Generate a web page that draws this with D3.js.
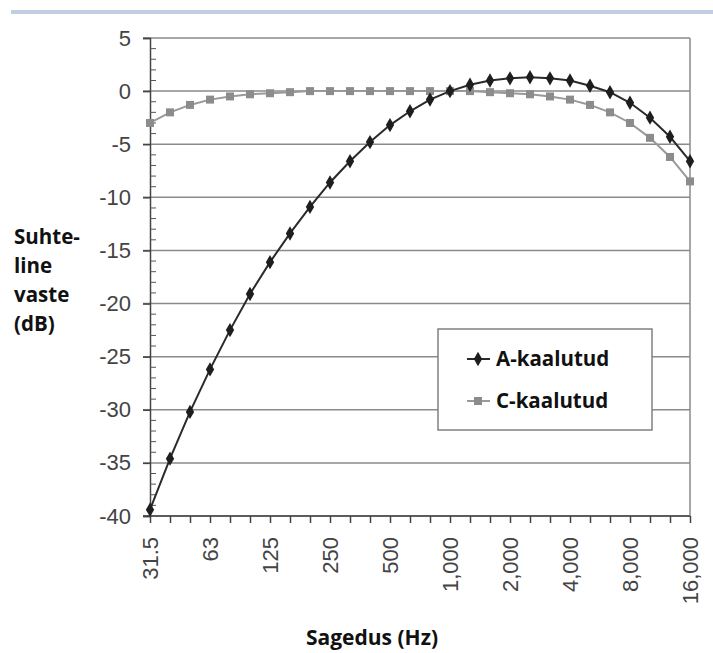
<!DOCTYPE html>
<html>
<head>
<meta charset="utf-8">
<script src="https://cdn.jsdelivr.net/npm/d3@7"></script>
<style>
  body { margin: 0; background: #fff; }
  svg { display: block; }
</style>
</head>
<body>
<script>
const laius = 713
const korgus = 653

// sagedused (Hz), 1/3 oktaavi kaupa
const sagedused = ['31.5','40','50','63','80','100','125','160','200','250','315','400','500','630','800',
  '1,000','1,250','1,600','2,000','2,500','3,150','4,000','5,000','6,300','8,000','10,000','12,500','16,000']
const sildid = ['31.5','63','125','250','500','1,000','2,000','4,000','8,000','16,000']
const yTikid = [5, 0, -5, -10, -15, -20, -25, -30, -35, -40]

const aKaal = [-39.4,-34.6,-30.2,-26.2,-22.5,-19.1,-16.1,-13.4,-10.9,-8.6,-6.6,-4.8,-3.2,-1.9,-0.8,
  0,0.6,1.0,1.2,1.3,1.2,1.0,0.5,-0.1,-1.1,-2.5,-4.3,-6.6]
const cKaal = [-3.0,-2.0,-1.3,-0.8,-0.5,-0.3,-0.2,-0.1,0,0,0,0,0,0,0,
  0,0,-0.1,-0.2,-0.3,-0.5,-0.8,-1.3,-2.0,-3.0,-4.4,-6.2,-8.5]

const ala = {vasak: 150, parem: 690, ules: 38, alla: 516}

const svg = d3.select('body').append('svg').attr('width', laius).attr('height', korgus)

// sinine joon ülaosas
svg.append('rect').attr('x', 11).attr('y', 10).attr('width', laius - 11).attr('height', 4).attr('fill', '#c3cde0')

const x = d3.scalePoint().domain(sagedused).range([ala.vasak, ala.parem])
const y = d3.scaleLinear().domain([-40, 5]).range([ala.alla, ala.ules])

// ruudustik
svg.append('g').selectAll('line').data(yTikid).join('line')
  .attr('x1', ala.vasak - 7).attr('x2', ala.parem)
  .attr('y1', d => y(d)).attr('y2', d => y(d))
  .attr('stroke', '#8a8a8a').attr('stroke-width', 1.5)

svg.append('line')
  .attr('x1', ala.parem).attr('x2', ala.parem).attr('y1', ala.ules).attr('y2', ala.alla)
  .attr('stroke', '#8a8a8a').attr('stroke-width', 1.5)

// y telg
const yTelg = svg.append('g').attr('transform', 'translate(' + ala.vasak + ',0)')
  .call(d3.axisLeft(y).tickValues(yTikid).tickSize(7).tickPadding(12).tickFormat(d3.format('d')))
yTelg.select('.domain').attr('stroke', '#444').attr('stroke-width', 1.5)
yTelg.selectAll('.tick line').attr('stroke', '#444').attr('stroke-width', 1.5)
yTelg.selectAll('text').attr('font-family', 'Liberation Sans, Arial, sans-serif')
  .attr('font-size', 22).attr('fill', '#444').text(d => d < 0 ? '-' + Math.abs(d) : d)

// väiksed tikid
svg.append('g').selectAll('line').data(d3.range(-40, 5, 1).filter(d => d % 5 != 0)).join('line')
  .attr('x1', ala.vasak).attr('x2', ala.vasak + 6)
  .attr('y1', d => y(d)).attr('y2', d => y(d))
  .attr('stroke', '#555').attr('stroke-width', 1)

// x telg
const xTelg = svg.append('g').attr('transform', 'translate(0,' + ala.alla + ')')
  .call(d3.axisBottom(x).tickSize(7).tickFormat(''))
xTelg.select('.domain').attr('stroke', '#444').attr('stroke-width', 1.5).attr('d', 'M' + (ala.vasak - 7) + ',0H' + ala.parem)
xTelg.selectAll('.tick line').attr('stroke', '#444').attr('stroke-width', 1.5)

svg.append('g').selectAll('text').data(sildid).join('text')
  .attr('transform', d => 'translate(' + x(d) + ',537) rotate(-90)')
  .attr('dy', '0.35em')
  .attr('text-anchor', 'end')
  .attr('font-family', 'Liberation Sans, Arial, sans-serif')
  .attr('font-size', 22).attr('fill', '#444')
  .text(d => d)

// kõverad
const joon = d3.line().x((d, i) => x(sagedused[i])).y(d => y(d))

svg.append('path').attr('d', joon(cKaal)).attr('fill', 'none').attr('stroke', '#999').attr('stroke-width', 2)
svg.append('g').selectAll('rect').data(cKaal).join('rect')
  .attr('x', (d, i) => x(sagedused[i]) - 4).attr('y', d => y(d) - 4)
  .attr('width', 8).attr('height', 8).attr('fill', '#8c8c8c')

svg.append('path').attr('d', joon(aKaal)).attr('fill', 'none').attr('stroke', '#2a2a2a').attr('stroke-width', 2)
const romb = d3.symbol().type(d3.symbolDiamond).size(60)
svg.append('g').selectAll('path').data(aKaal).join('path')
  .attr('transform', (d, i) => 'translate(' + x(sagedused[i]) + ',' + y(d) + ')')
  .attr('d', romb).attr('fill', '#1e1e1e')

// legend
const leg = svg.append('g')
leg.append('rect').attr('x', 438).attr('y', 329).attr('width', 214).attr('height', 101)
  .attr('fill', '#fff').attr('stroke', '#808080').attr('stroke-width', 1.5)
leg.append('line').attr('x1', 467).attr('x2', 490).attr('y1', 359).attr('y2', 359).attr('stroke', '#2a2a2a').attr('stroke-width', 2)
leg.append('path').attr('transform', 'translate(478,359)').attr('d', romb).attr('fill', '#1e1e1e')
leg.append('line').attr('x1', 467).attr('x2', 490).attr('y1', 401).attr('y2', 401).attr('stroke', '#999').attr('stroke-width', 2)
leg.append('rect').attr('x', 474).attr('y', 397).attr('width', 8).attr('height', 8).attr('fill', '#8c8c8c')
leg.selectAll('text').data(['A-kaalutud', 'C-kaalutud']).join('text')
  .attr('x', 496).attr('y', (d, i) => 366 + i * 42)
  .attr('font-family', 'Open Sans, sans-serif').attr('font-weight', 'bold')
  .attr('font-size', 20.5).attr('fill', '#111')
  .text(d => d)

// telgede pealkirjad
svg.append('g').selectAll('text').data(['Suhte-', 'line', 'vaste', '(dB)']).join('text')
  .attr('x', 14).attr('y', (d, i) => 244 + i * 29)
  .attr('font-family', 'Open Sans, sans-serif').attr('font-weight', 'bold')
  .attr('font-size', 20.5).attr('fill', '#111')
  .text(d => d)

svg.append('text').attr('x', 372).attr('y', 645).attr('text-anchor', 'middle')
  .attr('font-family', 'Open Sans, sans-serif').attr('font-weight', 'bold')
  .attr('font-size', 21).attr('fill', '#111')
  .text('Sagedus (Hz)')
</script>
</body>
</html>
